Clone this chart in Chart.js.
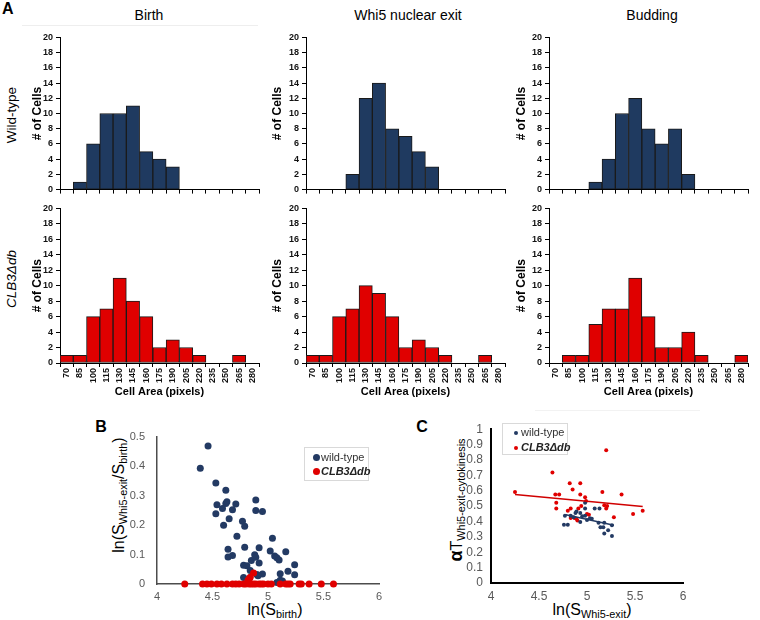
<!DOCTYPE html>
<html><head><meta charset="utf-8">
<script src="https://cdn.jsdelivr.net/npm/chart.js@4.4.1/dist/chart.umd.min.js"></script>
<style>
html,body{margin:0;padding:0;background:#fff;}
body{width:760px;height:620px;position:relative;overflow:hidden;font-family:"Liberation Sans",Arial,sans-serif;}
canvas{position:absolute;}
.t{position:absolute;white-space:nowrap;color:#000;line-height:1;}
.c{transform:translate(-50%,-50%);}
.r{transform:translate(-50%,-50%) rotate(-90deg);}
sub{font-size:0.68em;vertical-align:-0.25em;line-height:0;}
.leg{position:absolute;border:1px solid #d9d9d9;background:#fff;}
.dot{position:absolute;border-radius:50%;}
</style></head><body>

<div class="t" style="left:2px;top:1px;font-size:16px;font-weight:bold;">A</div>
<div style="position:absolute;left:22px;top:25px;width:236px;height:1px;background:#eeeeee;"></div>
<div class="t c" style="left:149px;top:15px;font-size:14px;">Birth</div>
<div class="t c" style="left:408px;top:15px;font-size:14px;">Whi5 nuclear exit</div>
<div class="t c" style="left:652px;top:15px;font-size:14px;">Budding</div>
<div class="t r" style="left:12px;top:115px;font-size:13.5px;">Wild-type</div>
<div class="t r" style="left:12px;top:279px;font-size:13.5px;font-style:italic;">CLB3Δdb</div>

<div class="t c" style="left:101px;top:427px;font-size:16px;font-weight:bold;">B</div>
<div class="t c" style="left:422px;top:427px;font-size:16px;font-weight:bold;">C</div>
<div style="position:absolute;left:535px;top:410px;width:165px;height:1px;background:#f2f2f2;"></div>

<div class="t r" style="left:119px;top:495px;font-size:16px;">ln(S<sub>Whi5-exit</sub>/S<sub>birth</sub>)</div>
<div class="t c" style="left:275px;top:610px;font-size:16px;">ln(S<sub>birth</sub>)</div>
<div class="t r" style="left:456px;top:500px;font-size:16px;"><b style="font-size:18px;">α</b>T<sub>Whi5-exit-cytokinesis</sub></div>
<div class="t c" style="left:592px;top:610px;font-size:16px;">ln(S<sub>Whi5-exit</sub>)</div>

<canvas id="h1"></canvas><canvas id="h2"></canvas><canvas id="h3"></canvas>
<canvas id="h4"></canvas><canvas id="h5"></canvas><canvas id="h6"></canvas>
<canvas id="sb"></canvas><canvas id="sc"></canvas>

<div class="leg" style="left:304px;top:447px;width:63px;height:32px;">
  <div class="dot" style="left:8px;top:6px;width:7px;height:7px;background:#233a63;"></div>
  <div class="t" style="left:16px;top:4px;font-size:11px;color:#333;">wild-type</div>
  <div class="dot" style="left:8px;top:20px;width:7px;height:7px;background:#e00000;"></div>
  <div class="t" style="left:16px;top:18px;font-size:11px;font-weight:bold;font-style:italic;color:#222;">CLB3Δdb</div>
</div>
<div class="leg" style="left:502px;top:423px;width:64px;height:30px;">
  <div class="dot" style="left:11px;top:7px;width:4px;height:4px;background:#233a63;"></div>
  <div class="t" style="left:18px;top:3px;font-size:11px;color:#333;">wild-type</div>
  <div class="dot" style="left:11px;top:22px;width:4px;height:4px;background:#e00000;"></div>
  <div class="t" style="left:18px;top:18px;font-size:11px;font-weight:bold;font-style:italic;color:#222;">CLB3Δdb</div>
</div>

<script>
// ---------- DATA ----------
const bins = ['70','85','100','115','130','145','160','175','190','205','220','235','250','265','280'];
const wtBirth  = [0,1,6,10,10,11,5,4,3,0,0,0,0,0,0];
const wtExit   = [0,0,0,2,12,14,8,7,5,3,0,0,0,0,0];
const wtBud    = [0,0,0,1,4,10,12,8,6,8,2,0,0,0,0];
const clbBirth = [1,1,6,7,11,8,6,2,3,2,1,0,0,1,0];
const clbExit  = [1,1,6,7,10,9,6,2,3,2,1,0,0,1,0];
const clbBud   = [0,1,1,5,7,7,11,6,2,2,4,1,0,0,1];
const yTicksHist = [0,2,4,6,8,10,12,14,16,18,20];

// Panel B: ln(S_birth) vs ln(S_exit/S_birth)
const wtBx = [4.39,4.46,4.53,4.54,4.53,4.62,4.62,4.63,4.59,4.60,4.65,4.68,4.71,4.64,4.64,4.68,4.77,4.79,4.72,4.79,4.78,4.81,4.78,4.85,4.84,4.88,4.89,4.92,4.92,4.89,4.89,4.95,4.95,4.90,4.91,5.04,5.02,5.06,5.08,5.10,5.16,5.11,5.11,5.08,5.18,5.24,5.24,5.13];
const wtBy = [0.393,0.468,0.343,0.269,0.238,0.318,0.273,0.279,0.256,0.199,0.221,0.252,0.271,0.118,0.092,0.097,0.213,0.196,0.162,0.125,0.064,0.062,0.022,0.080,0.046,0.099,0.091,0.071,0.123,0.285,0.249,0.246,0.034,0.032,0.028,0.155,0.112,0.095,0.089,0.081,0.109,0.035,0.013,0.005,0.043,0.065,0.031,0.010];
const clbBx = [4.25,4.41,4.45,4.49,4.54,4.58,4.63,4.68,4.71,4.74,4.78,4.80,4.83,4.85,4.87,4.89,4.92,4.94,4.96,5.00,5.03,5.11,5.16,5.18,5.20,5.28,5.30,5.37,5.48,5.59,4.87,4.84,4.82,4.83];
const clbBy = [0,0,0,0,0,0,0,0,0,0,0,0,0,0,0,0,0,0,0,0,0,0,0,0,0,0,0,0,0,0,0.037,0.023,0.013,0.018];
const bTicksY = [0,0.1,0.2,0.3,0.4,0.5];

// Panel C: ln(S_exit) vs alpha*T
const wtCx = [4.76,4.80,4.77,4.83,4.88,4.89,4.93,4.93,4.95,4.98,4.98,4.98,5.05,5.08,5.13,5.12,5.18,5.14,5.17,5.18,5.22,5.26,5.26,5.00,5.03,4.86];
const wtCy = [0.379,0.379,0.438,0.438,0.455,0.465,0.455,0.396,0.434,0.438,0.522,0.484,0.417,0.484,0.484,0.392,0.392,0.362,0.362,0.322,0.343,0.375,0.305,0.410,0.421,0.427];
const clbCx = [4.25,4.64,4.67,4.71,4.68,4.68,4.82,4.85,4.93,4.93,4.98,4.80,4.83,4.91,4.94,4.99,5.16,5.20,5.18,5.21,5.20,5.36,5.48,5.58,5.28,4.83,4.87,4.89,4.90,5.00,5.02];
const clbCy = [0.592,0.718,0.575,0.575,0.522,0.484,0.648,0.608,0.648,0.575,0.558,0.469,0.484,0.484,0.501,0.533,0.592,0.863,0.505,0.501,0.484,0.575,0.448,0.469,0.427,0.423,0.423,0.417,0.406,0.448,0.444];
const wtFitX = [4.78,5.28], wtFitY = [0.444,0.375];
const clbFitX = [4.25,5.58], clbFitY = [0.575,0.497];
const cTicksY = [0,0.1,0.2,0.3,0.4,0.5,0.6,0.7,0.8,0.9,1];
const xTicksBC = [4,4.5,5,5.5,6];

// ---------- DRAWING ----------
const FONT = '"Liberation Sans", Arial, sans-serif';
Chart.defaults.font.family = FONT;
const NAVY = '#1f3a60', RED = '#e00000';

function hist(id, left, axisX, areaTop, areaRight, areaBottom, values, color, showX) {
  const padTop = 8, padRight = 8;
  const bottomH = showX ? 38 : 6;
  const cv = document.getElementById(id);
  const top = areaTop - padTop;
  cv.width = areaRight + padRight - left;
  cv.height = areaBottom + bottomH - top;
  cv.style.left = left + 'px'; cv.style.top = top + 'px';
  new Chart(cv, {
    type: 'bar',
    data: { labels: bins, datasets: [{ data: values, backgroundColor: color, borderColor: '#1a1a1a', borderWidth: 1, borderSkipped: false, barPercentage: 1, categoryPercentage: 1 }] },
    options: {
      responsive: false, animation: false, events: [],
      plugins: { legend: { display: false }, tooltip: { enabled: false } },
      layout: { padding: { top: padTop, right: padRight, left: 0, bottom: 0 } },
      scales: {
        x: {
          grid: { offset: true, drawOnChartArea: false, drawTicks: true, tickLength: 4, color: '#000' },
          border: { color: '#000', width: 1 },
          ticks: { display: showX, autoSkip: false, maxRotation: 90, minRotation: 90, padding: 1, color: '#111', font: { size: 9, weight: 'bold' } },
          title: { display: showX, text: 'Cell Area (pixels)', color: '#000', padding: { top: 0, bottom: 2 }, font: { size: 11, weight: 'bold' } },
          afterFit: s => { s.height = bottomH; }
        },
        y: {
          min: 0, max: 20,
          afterBuildTicks: s => { s.ticks = yTicksHist.map(v => ({ value: v })); },
          grid: { drawOnChartArea: false, drawTicks: true, tickLength: 4, color: '#000' },
          border: { color: '#000', width: 1 },
          ticks: { padding: 3, autoSkip: false, color: '#111', font: { size: 9, weight: 'bold' } },
          title: { display: true, text: '# of Cells', color: '#000', padding: { top: 4, bottom: 0 }, font: { size: 12, weight: 'bold' } },
          afterFit: s => { s.width = axisX - left; }
        }
      }
    }
  });
}

hist('h1', 26, 60, 37, 259, 192, wtBirth, NAVY, false);
hist('h2', 266, 306, 37, 505, 192, wtExit, NAVY, false);
hist('h3', 510, 549, 37, 748, 192, wtBud, NAVY, false);
hist('h4', 26, 60, 208, 259, 363, clbBirth, RED, true);
hist('h5', 266, 306, 208, 505, 363, clbExit, RED, true);
hist('h6', 510, 549, 208, 748, 363, clbBud, RED, true);

const zip = (xs, ys) => xs.map((x, i) => ({ x: x, y: ys[i] }));

function scatter(id, left, axisX, areaTop, areaRight, areaBottom, datasets, o) {
  const padTop = 10, padRight = 10, bottomH = 22;
  const cv = document.getElementById(id);
  const top = areaTop - padTop;
  cv.width = areaRight + padRight - left;
  cv.height = areaBottom + bottomH - top;
  cv.style.left = left + 'px'; cv.style.top = top + 'px';
  new Chart(cv, {
    type: 'scatter',
    data: { datasets: datasets },
    options: {
      responsive: false, animation: false, events: [],
      plugins: { legend: { display: false }, tooltip: { enabled: false } },
      layout: { padding: { top: padTop, right: padRight, left: 0, bottom: 0 } },
      scales: {
        x: {
          type: 'linear', min: 4, max: 6,
          afterBuildTicks: s => { s.ticks = xTicksBC.map(v => ({ value: v })); },
          ticks: { autoSkip: false, maxRotation: 0, padding: o.xpad, color: '#595959', font: { size: o.fs }, callback: v => String(+v.toFixed(1)) },
          grid: { display: false, drawTicks: false },
          border: { color: o.axis, width: o.aw },
          afterFit: s => { s.height = bottomH; }
        },
        y: {
          min: 0, max: o.ymax,
          afterBuildTicks: s => { s.ticks = o.yt.map(v => ({ value: v })); },
          ticks: { autoSkip: false, padding: o.ypad, color: '#595959', font: { size: o.fs }, callback: v => String(+v.toFixed(1)) },
          grid: { display: false, drawTicks: false },
          border: { color: o.axis, width: o.aw },
          afterFit: s => { s.width = axisX - left; }
        }
      }
    }
  });
}

scatter('sb', 130, 157, 428, 379, 584, [
  { data: zip(clbBx, clbBy), backgroundColor: RED, borderColor: RED, pointRadius: 3.5, borderWidth: 0, clip: false },
  { data: zip(wtBx, wtBy), backgroundColor: '#233a63', borderColor: '#233a63', pointRadius: 3.5, borderWidth: 0, clip: false }
], { ymax: 0.5, yt: bTicksY, fs: 11, xpad: 6, ypad: 12, axis: '#4d4d4d', aw: 1.5 });

scatter('sc', 460, 491, 424, 683, 583, [
  { type: 'line', data: zip(wtFitX, wtFitY), borderColor: '#233a63', borderWidth: 1.5, pointRadius: 0, showLine: true, fill: false },
  { type: 'line', data: zip(clbFitX, clbFitY), borderColor: '#d00000', borderWidth: 1.5, pointRadius: 0, showLine: true, fill: false },
  { data: zip(wtCx, wtCy), backgroundColor: '#233a63', borderColor: '#233a63', pointRadius: 2, borderWidth: 0, clip: false },
  { data: zip(clbCx, clbCy), backgroundColor: RED, borderColor: RED, pointRadius: 2, borderWidth: 0, clip: false }
], { ymax: 1, yt: cTicksY, fs: 12, xpad: 6, ypad: 8, axis: '#000', aw: 2 });
</script>
</body></html>
